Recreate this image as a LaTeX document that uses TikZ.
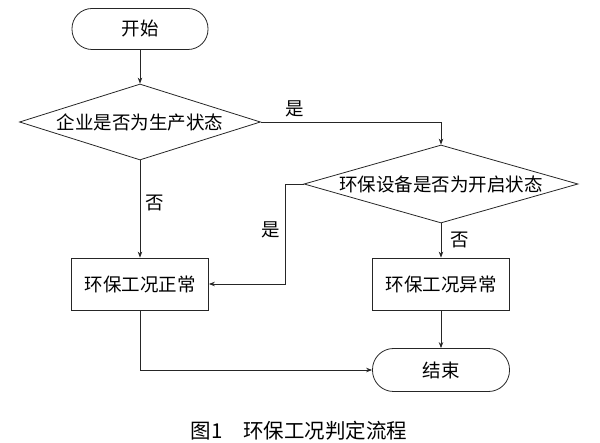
\documentclass[tikz,border=0pt]{standalone}
\usepackage{fontspec}
\setmainfont{Noto Sans CJK SC}
\usetikzlibrary{shapes.geometric, arrows.meta}

\begin{document}
\begin{tikzpicture}[x = 1pt, y = -1pt,
        font = \fontsize{18.5}{22}\selectfont,
        line/.style = {draw = black!85, line width = 0.8pt},
        arrow/.style = {line, -{Stealth[length = 6pt, width = 4.5pt]}},
        terminal/.style = {line, rectangle, rounded corners = 20pt, minimum width = 136pt, minimum height = 41pt, inner sep = 0pt},
        process/.style = {line, rectangle, minimum width = 137pt, minimum height = 52pt, inner sep = 0pt},
        decision/.style = {line, diamond, inner sep = 0pt}]
        \useasboundingbox (0, 0) rectangle (600, 443);
        \node [terminal] (start) at (140, 29) {开始};
        \node [decision, minimum width = 241pt, minimum height = 76pt] (prod) at (140, 122) {};
        \node (prodtext) at (prod) {企业是否为生产状态};
        \node [decision, minimum width = 274pt, minimum height = 78pt] (equip) at (441, 184) {};
        \node (equiptext) at (equip) {环保设备是否为开启状态};
        \node [process] (normal) at (140, 284) {环保工况正常};
        \node [process] (abnormal) at (441, 284) {环保工况异常};
        \node [terminal, minimum width = 137pt, minimum height = 43pt, rounded corners = 21pt] (finish) at (441, 370) {结束};
        \coordinate (bend) at (285, 184);
        \draw [arrow] (start) -- (prod);
        \draw [arrow] (prod.east) -| (equip.north);
        \draw [arrow] (prod) -- (normal);
        \draw [arrow] (equip.west) -- (bend) |- (normal.east);
        \draw [arrow] (equip) -- (abnormal);
        \draw [arrow] (abnormal) -- (finish);
        \draw [arrow] (normal.south) |- (finish.west);
        \node (yes1) at (295, 109) {是};
        \node (no1) at (155, 203) {否};
        \node (yes2) at (271, 230) {是};
        \node (no2) at (460, 240) {否};
        \node [font = \fontsize{20.5}{24}\selectfont] (caption) at (299, 431) {图1\quad 环保工况判定流程};
    \end{tikzpicture}
\end{document}
